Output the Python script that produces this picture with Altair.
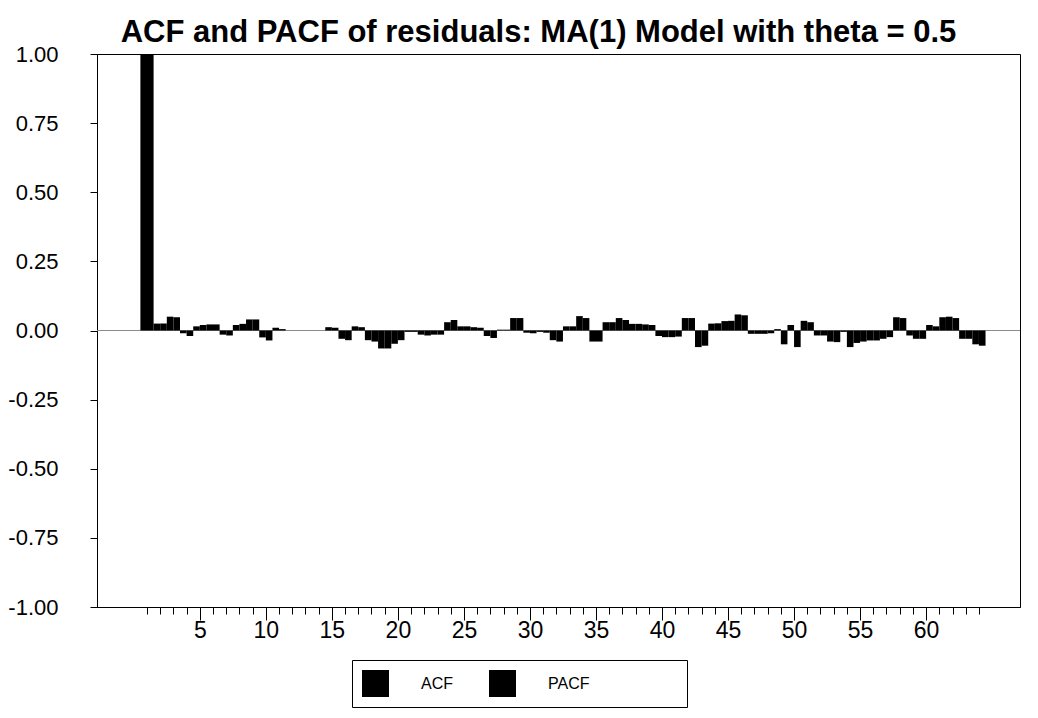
import altair as alt
import pandas as pd

# ---- data ----
lags = list(range(1, 65))
acf = [1.0, 0.025, 0.05, -0.01, 0.015, 0.022, -0.015, 0.02, 0.04, -0.025,
       0.01, 0.0, 0.0, 0.0, 0.012, -0.03, 0.015, -0.035, -0.065, -0.048,
       -0.005, -0.015, -0.015, 0.03, 0.015, 0.012, -0.02, 0.003, 0.045, -0.008,
       -0.005, -0.035, 0.015, 0.052, -0.04, 0.03, 0.045, 0.024, 0.022, -0.02,
       -0.024, 0.045, -0.06, 0.025, 0.034, 0.058, -0.012, -0.012, 0.005, 0.02,
       0.035, -0.018, -0.04, -0.005, -0.045, -0.036, -0.03, 0.048, -0.018, -0.03,
       0.015, 0.05, -0.03, -0.05]
pacf = [1.0, 0.025, 0.048, -0.02, 0.02, 0.022, -0.018, 0.024, 0.04, -0.036,
        0.005, 0.0, 0.0, 0.0, 0.01, -0.035, 0.012, -0.04, -0.065, -0.035,
        -0.005, -0.018, -0.015, 0.038, 0.015, 0.01, -0.027, 0.003, 0.045, -0.01,
        -0.008, -0.04, 0.015, 0.045, -0.04, 0.03, 0.038, 0.024, 0.02, -0.024,
        -0.022, 0.045, -0.055, 0.026, 0.035, 0.055, -0.012, -0.01, -0.05, -0.06,
        0.03, -0.018, -0.042, -0.06, -0.04, -0.036, -0.024, 0.045, -0.03, 0.02,
        0.048, 0.045, -0.03, -0.055]
series_names = ["ACF", "PACF"]
y_ticks = [-1.0, -0.75, -0.5, -0.25, 0.0, 0.25, 0.5, 0.75, 1.0]
zero_line = [0.0]
title_text = "ACF and PACF of residuals: MA(1) Model with theta = 0.5"

df = pd.DataFrame({"lag": lags, "ACF": acf, "PACF": pacf})
zero_df = pd.DataFrame({"zero": zero_line})

FONT = "Liberation Sans"
xscale = alt.Scale(domain=[-2.786, 67.11], nice=False, zero=False)
yscale = alt.Scale(domain=[-1, 1], nice=False)

y_axis = alt.Axis(
    values=y_ticks,
    labelExpr="datum.value < 0 ? '-' + format(-datum.value, '.2f') : format(datum.value, '.2f')",
    tickSize=7,
    tickColor="black",
    domainColor="black",
    labelColor="black",
    labelFont=FONT,
    labelFontSize=22,
    labelPadding=32,
    grid=False,
)

bars = (
    alt.Chart(df)
    .transform_fold(series_names, as_=["series", "value"])
    .transform_calculate(
        x0="datum.series === 'ACF' ? datum.lag - 0.5 : datum.lag",
        x1="datum.series === 'ACF' ? datum.lag : datum.lag + 0.5",
    )
    .mark_bar(strokeWidth=0)
    .encode(
        x=alt.X(
            "x0:Q",
            scale=xscale,
            title=None,
            axis=alt.Axis(
                values=lags,
                labelExpr="datum.value % 5 === 0 ? datum.value : ''",
                tickSize={"condition": {"test": "datum.value % 5 === 0", "value": 13}, "value": 7},
                tickColor="black",
                domainColor="black",
                labelColor="black",
                labelFont=FONT,
                labelFontSize=23,
                labelPadding=-1,
                labelOverlap=False,
                labelFlush=False,
                grid=False,
            ),
        ),
        x2="x1:Q",
        y=alt.Y("value:Q", scale=yscale, title=None, axis=y_axis),
        y2=alt.datum(0),
        color=alt.Color(
            "series:N",
            scale=alt.Scale(domain=series_names, range=["#000000", "#000000"]),
            legend=alt.Legend(
                title="PACF PACF",
                titleOrient="right",
                titleColor="white",
                titleFont=FONT,
                titleFontSize=16,
                titleFontWeight="normal",
                titlePadding=0,
                orient="none",
                legendX=255,
                legendY=606,
                direction="horizontal",
                symbolType="square",
                symbolSize=729,
                symbolStrokeWidth=0,
                symbolOpacity=1,
                labelFont=FONT,
                labelFontSize=16,
                labelColor="black",
                labelOffset=32,
                columnPadding=36,
                padding=10,
                strokeColor="black",
                fillColor="white",
            ),
        ),
    )
)

zero_rule = (
    alt.Chart(zero_df)
    .mark_rule(color="#8c8c8c", strokeWidth=1)
    .encode(y=alt.Y("zero:Q", scale=yscale, title=None, axis=y_axis))
)

chart = (
    alt.layer(zero_rule, bars)
    .properties(
        width=923,
        height=553,
        autosize="none",
        padding={"left": 89, "top": 46, "right": 10, "bottom": 101},
        title=alt.Title(
            title_text,
            fontSize=31,
            fontWeight="bold",
            font=FONT,
            color="black",
            anchor="middle",
            dx=-20,
            dy=12,
            offset=6,
        ),
        background="white",
    )
    .configure_view(stroke="black", strokeWidth=1)
)

chart.save("out.html", embed_options={"renderer": "svg", "actions": False})
